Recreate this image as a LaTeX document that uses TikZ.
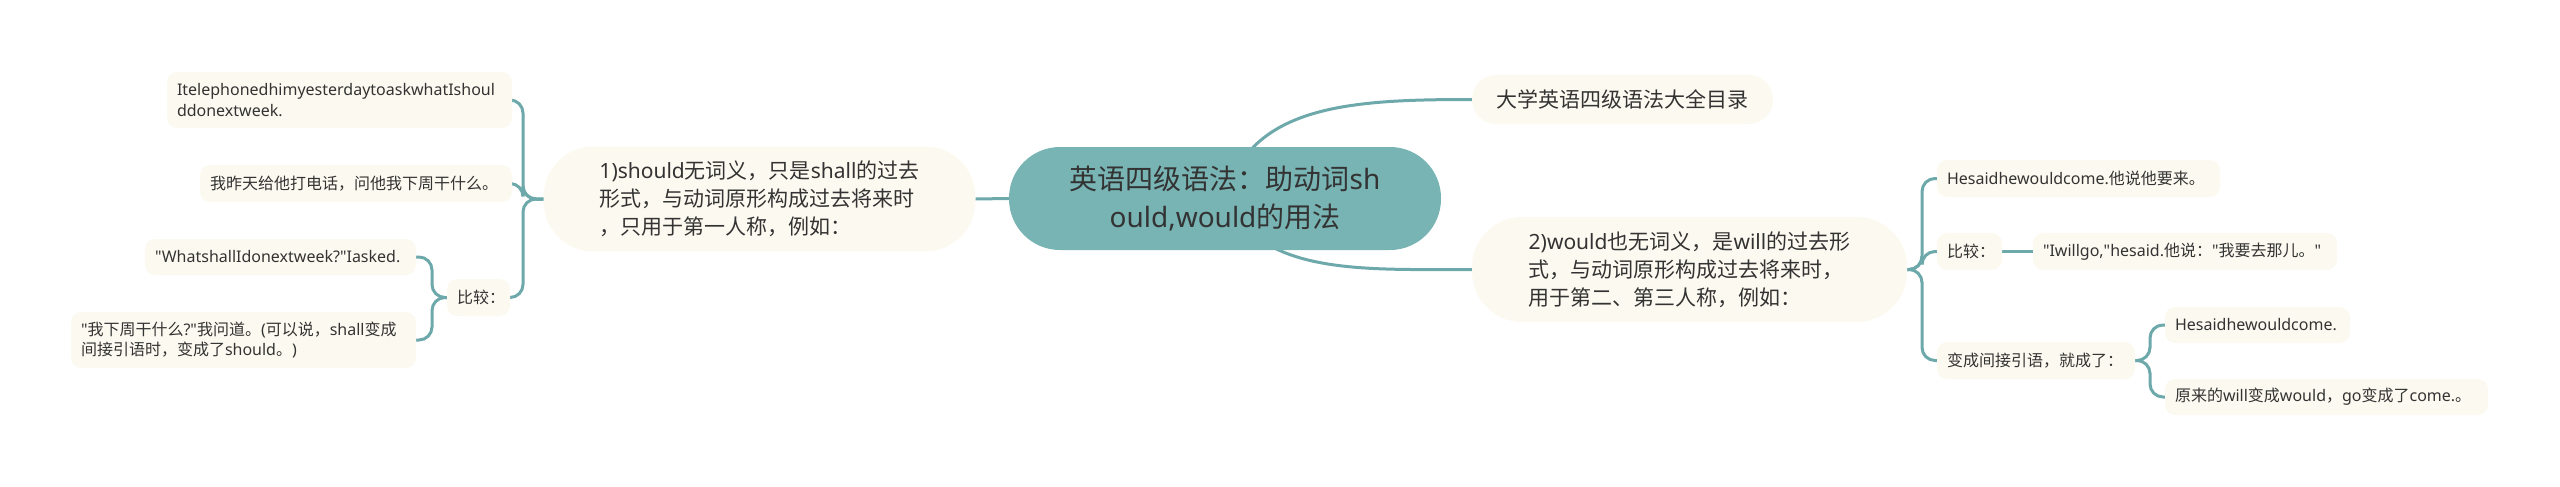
\documentclass[tikz,border=0pt]{standalone}
\usepackage{fontspec}
\setmainfont{Noto Sans}
\newfontfamily\cjkf{Noto Sans CJK SC}
\newfontfamily\latf{Noto Sans}
\newcommand\LT[1]{{\latf #1}}
\usetikzlibrary{backgrounds}
\definecolor{linec}{HTML}{6DA8AA}
\definecolor{rootc}{HTML}{79B4B4}
\definecolor{boxc}{HTML}{FCFAF0}
\definecolor{txtc}{HTML}{333333}
\tikzset{
  leaf/.style={fill=boxc, text=txtc, inner xsep=10pt, inner ysep=0pt, align=left,
    font=\cjkf\fontsize{16}{20.5}\selectfont, rounded corners=10pt},
  mid/.style={fill=boxc, text=txtc, inner xsep=0pt, inner ysep=0pt, align=left,
    font=\cjkf\fontsize{21}{28}\selectfont, rounded corners=50pt},
  topic/.style={fill=boxc, text=txtc, inner xsep=0pt, inner ysep=0pt, align=center,
    font=\cjkf\fontsize{21}{28}\selectfont, rounded corners=24pt},
  rootbox/.style={fill=rootc, text=txtc, inner xsep=0pt, inner ysep=0pt, align=center,
    font=\cjkf\fontsize{28}{38}\selectfont, rounded corners=51pt},
  conn/.style={draw=linec, line width=3pt, line cap=round, rounded corners=13pt},
}
\begin{document}
\begin{tikzpicture}[x=1pt,y=-1pt]
\useasboundingbox (0,0) rectangle (2560,487);
% root and main topics
\node[rootbox, minimum width=432, minimum height=103] (root) at (1225,198.5)
  {英语四级语法：助动词\LT{sh}\\\LT{ould,would}的用法};
\node[topic, minimum width=301, minimum height=49] (top) at (1622.5,99.5)
  {大学英语四级语法大全目录};
\node[mid, minimum width=432, minimum height=105] (n1) at (759.5,199)
  {\LT{1)should}无词义，只是\LT{shall}的过去\\形式，与动词原形构成过去将来时\\，只用于第一人称，例如：};
\node[mid, minimum width=435, minimum height=105] (n2) at (1689.5,269.5)
  {\LT{2)would}也无词义，是\LT{will}的过去形\\式，与动词原形构成过去将来时，\\用于第二、第三人称，例如：};
% left leaves
\node[leaf, text width=325, minimum height=56] (tel) at (339.5,100)
  {\LT{ItelephonedhimyesterdaytoaskwhatIshoul}\\\LT{ddonextweek.}};
\node[leaf, text width=292, minimum height=37] (zt) at (356,183.5)
  {我昨天给他打电话，问他我下周干什么。};
\node[leaf, text width=43, minimum height=37] (bjL) at (478.5,297.5)
  {比较：};
\node[leaf, text width=251, minimum height=36] (what) at (280.5,257)
  {\LT{"WhatshallIdonextweek?"Iasked.}};
\node[leaf, text width=325, minimum height=56] (wo) at (243.5,340)
  {\LT{"}我下周干什么\LT{?"}我问道。\LT{(}可以说，\LT{shall}变成\\间接引语时，变成了\LT{should}。\LT{)}};
% right leaves
\node[leaf, text width=263, minimum height=37] (hs1) at (2078.5,178.5)
  {\LT{Hesaidhewouldcome.}他说他要来。};
\node[leaf, text width=45, minimum height=37] (bjR) at (1969.5,251.5)
  {比较：};
\node[leaf, text width=284, minimum height=37] (iw) at (2185,251.5)
  {\LT{"Iwillgo,"hesaid.}他说：\LT{"}我要去那儿。\LT{"}};
\node[leaf, text width=178, minimum height=37] (bc) at (2036,360.5)
  {变成间接引语，就成了：};
\node[leaf, text width=165, minimum height=36] (hs2) at (2257.5,325)
  {\LT{Hesaidhewouldcome.}};
\node[leaf, text width=303, minimum height=36] (yl) at (2326.5,397)
  {原来的\LT{will}变成\LT{would}，\LT{go}变成了\LT{come.}。};
% spine junctions
\coordinate (spL) at (523,199);
\coordinate (spLb) at (432,297.5);
\coordinate (spR) at (1922,269.5);
\coordinate (spRb) at (2150,360.5);
\begin{scope}[on background layer]
  \draw[conn] (root.center) .. controls (1250,105) and (1350,99.5) .. (top.west);
  \draw[conn] (root.center) .. controls (1262,275) and (1360,269.5) .. (n2.west);
  \draw[conn] (root.west) -- (n1.east);
  % left bracket
  \draw[conn] (n1.west) -- (spL) |- (tel.east);
  \draw[conn] (n1.west) -- (spL) |- (zt.east);
  \draw[conn] (n1.west) -- (spL) |- (bjL.east);
  \draw[conn] (bjL.west) -- (spLb) |- (what.east);
  \draw[conn] (bjL.west) -- (spLb) |- (wo.east);
  % right bracket
  \draw[conn] (n2.east) -- (spR) |- (hs1.west);
  \draw[conn] (n2.east) -- (spR) |- (bjR.west);
  \draw[conn] (n2.east) -- (spR) |- (bc.west);
  \draw[conn] (bjR.east) -- (iw.west);
  \draw[conn] (bc.east) -- (spRb) |- (hs2.west);
  \draw[conn] (bc.east) -- (spRb) |- (yl.west);
\end{scope}
\end{tikzpicture}
\end{document}
